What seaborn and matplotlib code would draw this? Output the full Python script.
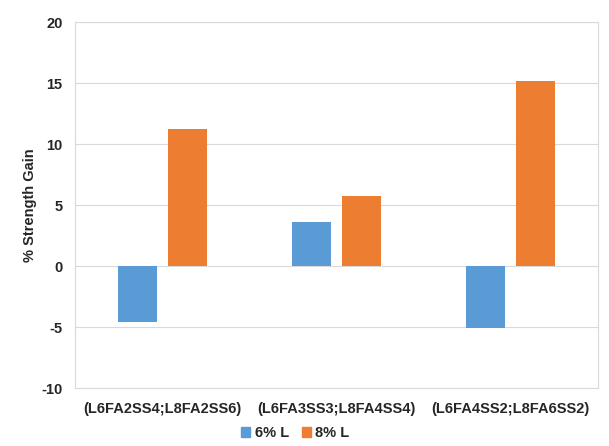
import pandas as pd
import matplotlib
matplotlib.use("Agg")
import matplotlib.pyplot as plt
import seaborn as sns

groups = ['(L6FA2SS4;L8FA2SS6)', '(L6FA3SS3;L8FA4SS4)', '(L6FA4SS2;L8FA6SS2)']
gain_6 = [-4.6, 3.6, -5.1]
gain_8 = [11.25, 5.75, 15.2]
series = ['6% L', '8% L']
colors = ['#5B9BD5', '#ED7D31']

df = pd.DataFrame({
    'group': groups * 2,
    'gain': gain_6 + gain_8,
    'series': [series[0]] * 3 + [series[1]] * 3,
})

sns.set_style('white')
plt.rcParams['font.family'] = ['Liberation Sans', 'DejaVu Sans']
plt.rcParams['font.weight'] = 'bold'
plt.rcParams['axes.unicode_minus'] = False

fig = plt.figure(figsize=(6.09, 4.46), dpi=100)
ax = fig.add_axes([75 / 609, 0.130, 523 / 609, 0.820])

sns.barplot(data=df, x='group', y='gain', hue='series', order=groups,
            hue_order=series, palette=colors, width=0.574, gap=0.22,
            saturation=1, edgecolor='none', ax=ax, legend=False)

ax.set_ylim(-10, 20)
ax.set_yticks(range(-10, 21, 5))
ax.set_xlim(-0.5, 2.5)
ax.grid(axis='y', color='#D9D9D9', linewidth=0.8)
ax.set_axisbelow(True)
for sp in ax.spines.values():
    sp.set_color('#D9D9D9')
    sp.set_linewidth(0.8)
ax.tick_params(axis='both', length=0, labelsize=10.5)
ax.tick_params(axis='y', pad=9)
ax.tick_params(axis='x', pad=10)
for lbl in ax.get_xticklabels() + ax.get_yticklabels():
    lbl.set_fontweight('bold')
ax.set_xlabel('')
ax.set_ylabel('% Strength Gain', fontsize=10.5, fontweight='bold', labelpad=3)

handles = [plt.Rectangle((0, 0), 1, 1, color=c) for c in colors]
fig.legend(handles, series, loc='center', bbox_to_anchor=(0.485, 0.029),
           ncol=2, frameon=False, handlelength=0.6, handleheight=0.6,
           handletextpad=0.3, columnspacing=0.9,
           prop={'size': 10.5, 'weight': 'bold'})

fig.savefig('out.png', dpi=100)
